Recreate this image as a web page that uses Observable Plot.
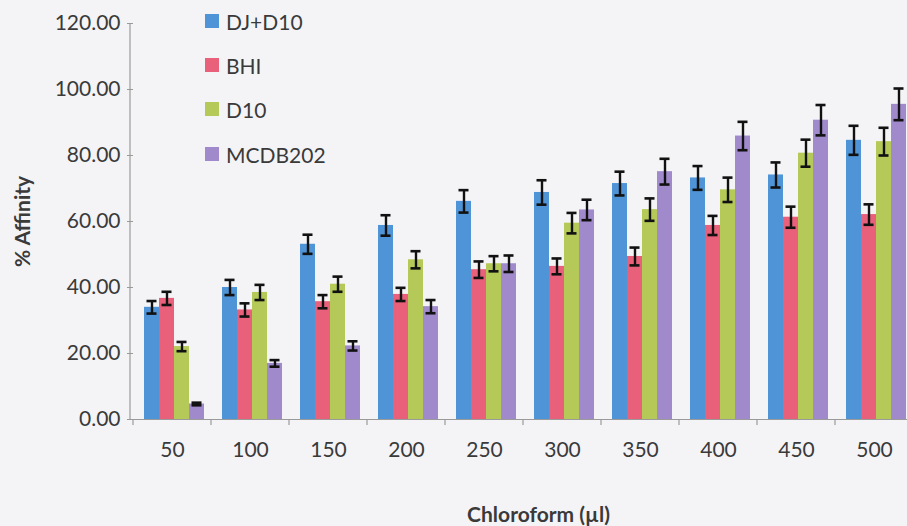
<!DOCTYPE html>
<html><head><meta charset="utf-8">
<script src="https://cdn.jsdelivr.net/npm/d3@7"></script>
<script src="https://cdn.jsdelivr.net/npm/@observablehq/plot@0.6"></script>
<style>
body{margin:0;background:#f4f4f7;}
#wrap{position:relative;width:907px;height:526px;overflow:hidden;font-family:Lato,sans-serif;}
#legend{position:absolute;left:205px;top:0;}
.item{position:absolute;left:0;height:22px;display:flex;align-items:center;font-size:21px;color:#3a3a3a;white-space:nowrap;}
.sw{width:14px;height:14px;margin-right:7px;}
</style></head><body><div id="wrap"><div id="legend"></div></div>
<script>
const categories = ["50","100","150","200","250","300","350","400","450","500"];
const seriesNames = ["DJ+D10","BHI","D10","MCDB202"];
const colors = ["#4f94d6","#e8607a","#b5c958","#a08acc"];
const djd10 = [34.0, 40.0, 53.1, 58.8, 66.1, 68.8, 71.5, 73.2, 74.1, 84.6];
const bhi   = [36.7, 33.2, 35.7, 37.9, 45.4, 46.4, 49.4, 58.8, 61.3, 62.1];
const d10   = [22.1, 38.5, 41.0, 48.4, 47.2, 59.5, 63.6, 69.6, 80.7, 84.2];
const mcdb  = [4.7, 17.0, 22.3, 34.2, 47.2, 63.5, 75.1, 85.9, 90.7, 95.5];
const djd10Err = [1.9, 2.3, 2.9, 3.1, 3.4, 3.7, 3.6, 3.6, 3.8, 4.4];
const bhiErr   = [2.0, 2.0, 2.0, 2.0, 2.5, 2.4, 2.7, 2.9, 3.2, 3.1];
const d10Err   = [1.4, 2.3, 2.3, 2.6, 2.3, 3.1, 3.4, 3.7, 4.1, 4.2];
const mcdbErr  = [0.4, 1.0, 1.4, 2.0, 2.5, 3.1, 3.9, 4.3, 4.6, 4.8];
const yTicks = [0, 20, 40, 60, 80, 100, 120];

const values = [djd10, bhi, d10, mcdb];
const errors = [djd10Err, bhiErr, d10Err, mcdbErr];
const rows = categories.flatMap((c, i) => seriesNames.map((s, j) => ({
  chloroform: c, series: s, value: values[j][i], err: errors[j][i]
})));

const chart = Plot.plot({
  width: 907, height: 526,
  marginTop: 23, marginBottom: 107, marginLeft: 130, marginRight: -8,
  style: {background: "transparent", fontFamily: "Lato, sans-serif", fontSize: "21px", color: "#3a3a3a", overflow: "visible"},
  fx: {domain: categories, paddingInner: 0, paddingOuter: 0},
  x: {domain: seriesNames, paddingInner: 0, paddingOuter: 0.6, align: 0.62, axis: null},
  y: {domain: [0, 120]},
  color: {domain: seriesNames, range: colors},
  marks: [
    Plot.barY(rows, {fx: "chloroform", x: "series", y: "value", fill: "series"}),
    Plot.ruleX(rows, {fx: "chloroform", x: "series", y1: d => d.value - d.err, y2: d => d.value + d.err, stroke: "#111", strokeWidth: 2.4}),
    Plot.tickY(rows, {fx: "chloroform", x: "series", y: d => d.value + d.err, stroke: "#111", strokeWidth: 2.6, insetLeft: 2.5, insetRight: 2.5}),
    Plot.tickY(rows, {fx: "chloroform", x: "series", y: d => d.value - d.err, stroke: "#111", strokeWidth: 2.6, insetLeft: 2.5, insetRight: 2.5}),
    Plot.ruleY([0], {stroke: "#9a9a9a", strokeWidth: 1.2}),
    Plot.axisY({ticks: yTicks, tickFormat: d3.format(".2f"), tickSize: 6, tickPadding: 7, stroke: "#9a9a9a",
      label: "% Affinity", labelAnchor: "center", labelOffset: 118, labelArrow: "none"}),
    Plot.axisFx({anchor: "bottom", tickSize: 0, tickPadding: 23, label: "Chloroform (µl)", labelAnchor: "center", labelOffset: 100, labelArrow: "none"})
  ]
});

document.getElementById("wrap").appendChild(chart);

// bold axis titles; nudge the x title to where the reference has it
d3.select(chart).selectAll('g[aria-label$="axis label"] text').attr("font-weight", "bold");
d3.select(chart).selectAll('g[aria-label="fx-axis label"]').each(function() {
  const t = this.getAttribute("transform") || "";
  this.setAttribute("transform", (t + " translate(15,2)").trim());
});

// y axis line and category separator ticks, from the plot's scales
const fx = chart.scale("fx"), y = chart.scale("y");
const y0 = y.apply(0), yTop = y.apply(120);
const svg = d3.select(chart);
svg.append("line").attr("x1", fx.range[0]).attr("x2", fx.range[0]).attr("y1", yTop).attr("y2", y0)
  .attr("stroke", "#9a9a9a").attr("stroke-width", 1.2);
const bounds = categories.map(c => fx.apply(c)).concat([fx.range[1]]);
svg.append("g").selectAll("line").data(bounds).join("line")
  .attr("x1", d => d).attr("x2", d => d).attr("y1", y0).attr("y2", y0 + 6)
  .attr("stroke", "#9a9a9a").attr("stroke-width", 1.2);

// legend
const color = chart.scale("color");
const legendTops = [21, 65, 109, 154];
const leg = d3.select("#legend");
seriesNames.forEach((s, i) => {
  const it = leg.append("div").attr("class", "item").style("top", (legendTops[i] - 11) + "px");
  it.append("div").attr("class", "sw").style("background", color.apply(s));
  it.append("span").text(s);
});
</script>
</body></html>
